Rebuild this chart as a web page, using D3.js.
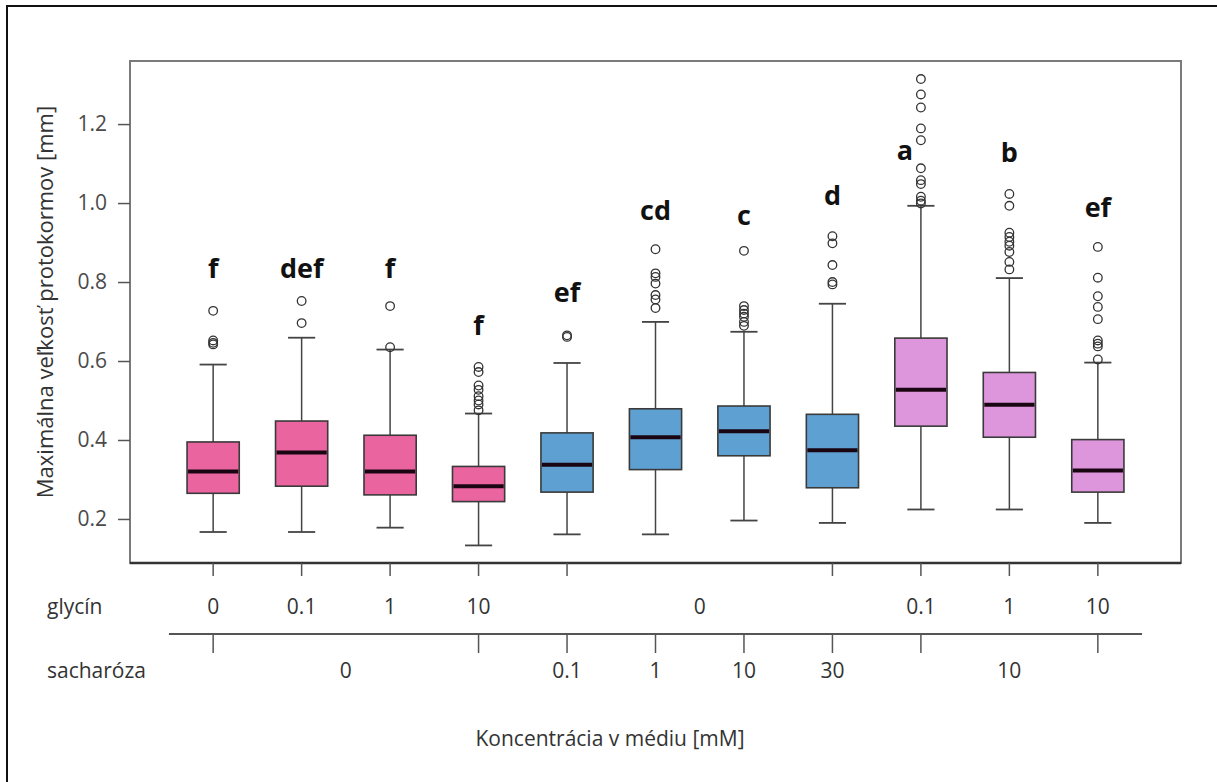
<!DOCTYPE html>
<meta charset="utf-8">
<style>
    body { margin: 0; background: #fff; }
    text { font-family: "Open Sans", sans-serif; }
</style>
<script src="https://d3js.org/d3.v7.min.js"></script>

<body>
    <div id="chart"></div>
    <script>
        // glycín / sacharóza combos, one per box
        var categories = ["0/0", "0.1/0", "1/0", "10/0", "0/0.1", "0/1", "0/10", "0/30", "0.1/10", "1/10", "10/10"];
        var groupOf = ["pink", "pink", "pink", "pink", "blue", "blue", "blue", "blue", "lilac", "lilac", "lilac"];

        var whiskerLow = [0.167, 0.167, 0.178, 0.133, 0.161, 0.161, 0.196, 0.190, 0.224, 0.224, 0.190];
        var q1 = [0.265, 0.283, 0.261, 0.244, 0.268, 0.325, 0.360, 0.279, 0.435, 0.407, 0.268];
        var median = [0.320, 0.368, 0.320, 0.283, 0.337, 0.407, 0.422, 0.374, 0.527, 0.489, 0.323];
        var q3 = [0.395, 0.448, 0.412, 0.333, 0.418, 0.479, 0.486, 0.465, 0.658, 0.571, 0.401];
        var whiskerHigh = [0.591, 0.659, 0.629, 0.467, 0.595, 0.699, 0.674, 0.745, 0.993, 0.810, 0.596];

        var outliers = [
            [0.727, 0.652, 0.646, 0.642],
            [0.752, 0.696],
            [0.739, 0.635],
            [0.585, 0.572, 0.538, 0.527, 0.511, 0.500, 0.490, 0.475],
            [0.665, 0.661],
            [0.883, 0.822, 0.813, 0.796, 0.767, 0.756, 0.734],
            [0.879, 0.739, 0.729, 0.720, 0.712, 0.699, 0.689],
            [0.916, 0.898, 0.843, 0.800, 0.794],
            [1.314, 1.275, 1.242, 1.189, 1.159, 1.088, 1.058, 1.048, 1.016, 1.006, 0.999],
            [1.023, 0.993, 0.925, 0.914, 0.902, 0.892, 0.876, 0.851, 0.832],
            [0.889, 0.811, 0.764, 0.737, 0.706, 0.652, 0.644, 0.637, 0.604]
        ];

        var letters = ["f", "def", "f", "f", "ef", "cd", "c", "d", "a", "b", "ef"];
        var letterAt = [0.81, 0.81, 0.81, 0.665, 0.749, 0.957, 0.944, 0.995, 1.109, 1.104, 0.964];

        var yTicks = [0.2, 0.4, 0.6, 0.8, 1.0, 1.2];

        // second-level x axis rows: label + span of boxes (first, last index)
        var glycinLabels = ["0", "0.1", "1", "10", "0", "0.1", "1", "10"];
        var glycinSpans = [[0, 0], [1, 1], [2, 2], [3, 3], [4, 7], [8, 8], [9, 9], [10, 10]];
        var sacharozaLabels = ["0", "0.1", "1", "10", "30", "10"];
        var sacharozaSpans = [[0, 3], [4, 4], [5, 5], [6, 6], [7, 7], [8, 10]];

        var colors = { pink: "#ea64a0", blue: "#5fa0d2", lilac: "#dd96dc" };

        var W = 1217, H = 782;
        var svg = d3.select("#chart").append("svg")
            .attr("width", W)
            .attr("height", H);

        var plot = { left: 130, right: 1181, top: 61, bottom: 563 };

        var x = d3.scalePoint()
            .domain(d3.range(categories.length))
            .range([plot.left, plot.right])
            .padding(0.94);
        var step = x.step();

        var y = d3.scaleLinear()
            .domain([0.0885, 1.3597])
            .range([plot.bottom, plot.top]);

        // outer frame (only left + top visible in the picture)
        svg.append("path")
            .attr("d", "M7," + H + "V6H" + W)
            .attr("fill", "none")
            .attr("stroke", "#111")
            .attr("stroke-width", 2);

        // plot box
        svg.append("rect")
            .attr("x", plot.left)
            .attr("y", plot.top)
            .attr("width", plot.right - plot.left)
            .attr("height", plot.bottom - plot.top)
            .attr("fill", "none")
            .attr("stroke", "#7a7a7a")
            .attr("stroke-width", 2);
        svg.append("line")
            .attr("x1", plot.left).attr("x2", plot.right)
            .attr("y1", plot.bottom).attr("y2", plot.bottom)
            .attr("stroke", "#333")
            .attr("stroke-width", 2.5);

        // y axis
        var yAxis = d3.axisLeft(y)
            .tickValues(yTicks)
            .tickFormat(d3.format(".1f"))
            .tickSize(12)
            .tickPadding(11);
        var gy = svg.append("g")
            .attr("transform", "translate(" + plot.left + ",0)")
            .call(yAxis);
        gy.select(".domain").remove();
        gy.selectAll(".tick line").attr("stroke", "#555").attr("stroke-width", 1.5);
        gy.selectAll(".tick text")
            .attr("fill", "#4a4a4a")
            .style("font-size", "21px")
            .style("font-family", "'Open Sans', sans-serif");

        svg.append("text")
            .attr("transform", "translate(47," + 302 + ") rotate(-90)")
            .attr("text-anchor", "middle")
            .attr("dominant-baseline", "middle")
            .attr("fill", "#333")
            .style("font-size", "22px")
            .text("Maximálna veľkosť protokormov [mm]");

        // boxes
        var boxW = step * 0.59, capW = boxW * 0.52;
        var data = categories.map(function(c, i) {
            return {
                i: i, lo: whiskerLow[i], q1: q1[i], med: median[i], q3: q3[i], hi: whiskerHigh[i],
                out: outliers[i], color: colors[groupOf[i]]
            };
        });

        var g = svg.append("g").selectAll("g.box")
            .data(data)
            .enter().append("g")
            .attr("class", "box")
            .attr("transform", function(d) { return "translate(" + x(d.i) + ",0)"; });

        g.append("line")
            .attr("y1", function(d) { return y(d.lo); })
            .attr("y2", function(d) { return y(d.q1); })
            .attr("stroke", "#444").attr("stroke-width", 1.5);
        g.append("line")
            .attr("y1", function(d) { return y(d.q3); })
            .attr("y2", function(d) { return y(d.hi); })
            .attr("stroke", "#444").attr("stroke-width", 1.5);
        g.selectAll("line.cap")
            .data(function(d) { return [d.lo, d.hi]; })
            .enter().append("line")
            .attr("class", "cap")
            .attr("x1", -capW / 2).attr("x2", capW / 2)
            .attr("y1", function(v) { return y(v); })
            .attr("y2", function(v) { return y(v); })
            .attr("stroke", "#444").attr("stroke-width", 1.8);

        g.append("rect")
            .attr("x", -boxW / 2)
            .attr("width", boxW)
            .attr("y", function(d) { return y(d.q3); })
            .attr("height", function(d) { return y(d.q1) - y(d.q3); })
            .attr("fill", function(d) { return d.color; })
            .attr("stroke", "#3a3a3a")
            .attr("stroke-width", 1.6);

        g.append("line")
            .attr("x1", -boxW / 2 + 1).attr("x2", boxW / 2 - 1)
            .attr("y1", function(d) { return y(d.med); })
            .attr("y2", function(d) { return y(d.med); })
            .attr("stroke", "#1a0612")
            .attr("stroke-width", 4);

        g.selectAll("circle")
            .data(function(d) { return d.out; })
            .enter().append("circle")
            .attr("cy", function(v) { return y(v); })
            .attr("r", 4.3)
            .attr("fill", "none")
            .attr("stroke", "#333")
            .attr("stroke-width", 1.3);

        // significance letters
        g.append("text")
            .attr("x", function(d) { return d.i === 8 ? -16 : 0; })
            .attr("y", function(d) { return y(letterAt[d.i]); })
            .attr("text-anchor", "middle")
            .attr("fill", "#111")
            .style("font-size", "27px")
            .style("font-weight", "700")
            .text(function(d) { return letters[d.i]; });

        // glycín row (ticks hang from the main axis)
        var rowGlycin = svg.append("g");
        var glyTicks = [];
        glycinSpans.forEach(function(s) {
            glyTicks.push(s[0]);
            if (s[1] !== s[0]) glyTicks.push(s[1]);
        });
        rowGlycin.selectAll("line")
            .data(glyTicks)
            .enter().append("line")
            .attr("x1", function(i) { return x(i); })
            .attr("x2", function(i) { return x(i); })
            .attr("y1", plot.bottom)
            .attr("y2", plot.bottom + 13)
            .attr("stroke", "#555").attr("stroke-width", 1.5);
        rowGlycin.selectAll("text")
            .data(glycinLabels)
            .enter().append("text")
            .attr("x", function(d, k) { return (x(glycinSpans[k][0]) + x(glycinSpans[k][1])) / 2; })
            .attr("y", 608)
            .attr("text-anchor", "middle")
            .attr("dominant-baseline", "middle")
            .attr("fill", "#333")
            .style("font-size", "21px")
            .text(function(d) { return d; });

        // sacharóza row
        var rowY = 634;
        var rowSach = svg.append("g");
        rowSach.append("line")
            .attr("x1", x(0) - step / 2)
            .attr("x2", x(categories.length - 1) + step / 2)
            .attr("y1", rowY).attr("y2", rowY)
            .attr("stroke", "#555").attr("stroke-width", 1.8);
        var sacTicks = [];
        sacharozaSpans.forEach(function(s) {
            sacTicks.push(s[0]);
            if (s[1] !== s[0]) sacTicks.push(s[1]);
        });
        rowSach.selectAll("line.t")
            .data(sacTicks)
            .enter().append("line")
            .attr("class", "t")
            .attr("x1", function(i) { return x(i); })
            .attr("x2", function(i) { return x(i); })
            .attr("y1", rowY)
            .attr("y2", rowY + 19)
            .attr("stroke", "#555").attr("stroke-width", 1.5);
        rowSach.selectAll("text")
            .data(sacharozaLabels)
            .enter().append("text")
            .attr("x", function(d, k) { return (x(sacharozaSpans[k][0]) + x(sacharozaSpans[k][1])) / 2; })
            .attr("y", 672)
            .attr("text-anchor", "middle")
            .attr("dominant-baseline", "middle")
            .attr("fill", "#333")
            .style("font-size", "21px")
            .text(function(d) { return d; });

        svg.append("text")
            .attr("x", 47).attr("y", 608)
            .attr("dominant-baseline", "middle")
            .attr("fill", "#333")
            .style("font-size", "21px")
            .text("glycín");
        svg.append("text")
            .attr("x", 47).attr("y", 672)
            .attr("dominant-baseline", "middle")
            .attr("fill", "#333")
            .style("font-size", "21px")
            .text("sacharóza");

        svg.append("text")
            .attr("x", 610).attr("y", 740)
            .attr("text-anchor", "middle")
            .attr("dominant-baseline", "middle")
            .attr("fill", "#333")
            .style("font-size", "21px")
            .text("Koncentrácia v médiu [mM]");
    </script>
</body>
